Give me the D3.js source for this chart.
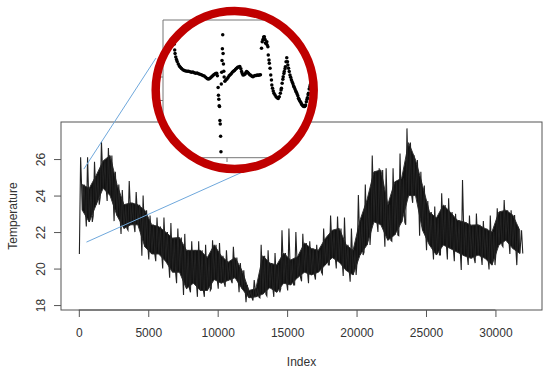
<!DOCTYPE html>
<html>
<head>
<meta charset="utf-8">
<script src="https://cdn.jsdelivr.net/npm/d3@7"></script>
<style>
  body { margin: 0; background: #fff; }
  svg { display: block; font-family: "Liberation Sans", Arial, sans-serif; }
</style>
</head>
<body>
<svg id="chart" width="550" height="372"></svg>
<script>
// the long series in windows of 500 samples
// (centre index of each window, dense band low/high, and the spike extremes)
const binIndex = d3.range(250, 32000, 500);
const bandLo = [23.2, 22.55, 23.5, 24.4, 24.0, 22.9, 22.2, 22.4, 22.4, 21.2,
  20.8, 20.8, 20.4, 19.8, 19.8, 18.9, 19.2, 18.8, 18.8, 19.4,
  19.2, 19.35, 19.5, 18.9, 18.4, 18.45, 18.6, 18.95, 18.7, 19.2,
  19.1, 19.5, 19.8, 19.65, 19.8, 20.2, 20.6, 20.35, 19.9, 19.65,
  20.74, 21.29, 22.56, 22.4, 21.55, 21.84, 22.55, 24.0, 24.0, 22.1,
  21.29, 20.74, 21.29, 21.1, 20.9, 20.7, 20.56, 20.74, 20.56, 20.19,
  21.29, 21.55, 21.1, 20.83];
const bandHi = [24.6, 24.4, 25.1, 25.9, 26.2, 24.6, 23.5, 23.6, 23.5, 23.2,
  22.4, 22.3, 22.0, 21.67, 21.7, 21.0, 21.0, 21.0, 20.6, 21.3,
  20.7, 20.35, 20.6, 19.9, 18.8, 18.9, 20.7, 20.3, 20.2, 20.85,
  20.47, 20.65, 21.4, 21.1, 21.0, 21.65, 22.1, 22.2, 21.3, 21.0,
  22.65, 23.75, 25.3, 25.4, 23.5, 24.75, 24.95, 26.9, 25.95, 24.55,
  23.1, 22.77, 23.48, 23.1, 22.65, 22.55, 22.38, 22.4, 22.2, 22.0,
  23.1, 23.2, 22.93, 22.1];
const peak = [26.1, 26.1, 25.85, 26.95, 26.6, 25.3, 24.3, 24.8, 24.2, 24.0,
  22.9, 22.8, 22.8, 22.5, 22.2, 21.9, 21.5, 21.5, 21.3, 21.55,
  21.4, 21.0, 21.2, 20.3, 19.1, 19.37, 21.3, 21.0, 20.85, 22.1,
  22.2, 22.0, 21.9, 21.5, 21.3, 22.2, 22.9, 22.85, 22.8, 22.2,
  24.03, 24.6, 26.2, 25.5, 25.5, 25.5, 26.3, 27.68, 26.22, 25.3,
  23.7, 23.4, 24.12, 23.85, 23.0, 24.85, 22.9, 23.02, 22.6, 22.9,
  23.3, 23.75, 23.2, 22.29];
const trough = [20.8, 22.3, 22.9, 23.9, 23.7, 22.6, 21.9, 22.1, 22.0, 20.7,
  20.5, 20.4, 20.0, 19.5, 19.2, 18.55, 18.7, 18.45, 18.45, 18.9,
  18.9, 19.0, 19.2, 18.7, 18.15, 18.25, 18.4, 18.5, 18.45, 18.9,
  18.8, 19.1, 19.3, 19.2, 19.4, 19.7, 20.2, 20.0, 19.6, 19.28,
  20.4, 20.9, 22.2, 22.0, 21.2, 21.5, 21.8, 22.4, 23.6, 21.8,
  21.0, 20.5, 20.74, 20.5, 20.4, 19.92, 20.2, 20.3, 20.2, 19.95,
  20.9, 21.2, 20.8, 20.19];

const xTicks = [0, 5000, 10000, 15000, 20000, 25000, 30000];
const yTicks = [18, 20, 22, 24, 26];

// magnified first ~390 samples shown in the circle: [index, temperature]
const insetSamples = [
  [1, 26.65], [2, 26.40], [3, 26.15], [4, 26.00], [6, 25.85], [8, 25.74], [10, 25.66],
  [13, 25.55], [16, 25.47], [19, 25.42], [22, 25.36], [26, 25.31], [30, 25.28], [34, 25.26],
  [38, 25.25], [42, 25.24], [46, 25.22], [50, 25.20], [54, 25.21], [58, 25.18], [62, 25.16],
  [66, 25.17], [70, 25.14], [74, 25.12], [78, 25.10], [82, 25.06], [86, 25.04], [90, 24.99],
  [94, 24.94], [97, 24.91], [100, 24.93], [103, 24.96], [106, 25.00], [109, 25.04], [112, 25.08],
  [115, 25.12], [118, 25.15], [121, 25.16], [123, 25.05],
  [125, 24.55], [126, 24.22], [127, 24.05], [128, 23.78], [129, 23.75], [130, 23.15],
  [131, 23.00], [132, 22.48], [133, 21.82],
  [134, 24.70], [135, 25.20], [136, 25.70], [137, 26.20], [138, 26.80], [139, 26.00],
  [140, 25.55], [141, 25.25], [142, 25.00], [144, 24.82], [147, 24.88], [150, 24.92],
  [153, 24.98], [156, 25.05], [159, 25.10], [162, 25.14], [165, 25.20], [168, 25.24],
  [171, 25.28], [174, 25.33], [177, 25.37], [180, 25.41], [183, 25.43], [186, 25.45],
  [189, 25.35], [191, 25.23], [193, 25.15], [195, 25.09], [198, 25.10], [201, 25.13],
  [203, 25.18], [205, 25.23], [208, 25.20], [211, 25.15], [214, 25.10], [217, 25.07],
  [220, 25.03], [223, 25.01], [226, 25.04], [229, 25.06], [232, 25.06], [235, 25.08],
  [238, 25.07], [241, 25.09], [244, 25.10],
  [247, 26.22], [249, 26.50], [251, 26.60], [253, 26.70], [255, 26.71], [257, 26.60],
  [258, 26.45], [260, 26.43], [262, 26.50], [263, 26.36], [265, 26.29],
  [266, 25.94], [268, 25.72], [269, 25.58], [271, 25.37], [273, 25.09], [275, 24.87],
  [276, 24.66], [278, 24.52], [280, 24.40], [282, 24.31], [285, 24.23], [288, 24.16],
  [291, 24.12], [294, 24.09], [297, 24.16], [300, 24.31], [302, 24.45], [303, 24.52],
  [305, 24.73], [307, 24.90], [308, 25.01], [310, 25.15], [311, 25.23], [313, 25.35],
  [314, 25.44], [316, 25.65], [318, 25.82], [320, 25.65], [321, 25.51], [323, 25.37],
  [325, 25.23], [327, 25.09], [329, 24.99], [331, 24.88], [333, 24.80], [335, 24.72],
  [337, 24.63], [339, 24.56], [341, 24.49], [343, 24.42], [345, 24.35], [347, 24.28],
  [349, 24.20], [351, 24.10], [352, 24.06], [354, 24.00], [356, 23.95], [358, 23.90],
  [360, 23.84], [362, 23.80], [364, 23.77], [366, 23.74], [368, 23.75], [370, 23.78],
  [371, 23.81], [373, 23.95], [375, 24.05], [376, 24.12], [378, 24.25], [379, 24.31],
  [381, 24.49], [383, 24.58], [384, 24.66], [386, 24.75], [387, 24.80], [389, 24.90]
];
const insetYTicks = [25, 24, 23];
const insetXTicks = [150];

const svg = d3.select("#chart");

// plot region (R style: 4% padding round the data)
const x = d3.scaleLinear().domain([-1283, 33354]).range([61, 542]);
const y = d3.scaleLinear().domain([17.73, 28.03]).range([310, 122]);

const bins = d3.range(binIndex.length);
const halfBin = 250;

// dense band
const band = d3.area()
  .x(i => x(binIndex[i]))
  .y0(i => y(bandLo[i]))
  .y1(i => y(bandHi[i]));

svg.append("path")
  .datum(bins)
  .attr("d", band)
  .attr("fill", "#111")
  .attr("stroke", "#333")
  .attr("stroke-width", 1);

// each window drawn as a sawtooth: sharp rise to the spike, fall back through the band
const saw = bins.flatMap(i => {
  const lo = binIndex[i] - halfBin;
  return [
    [lo + 40, trough[i]],
    [lo + 130, peak[i]],
    [lo + 260, bandLo[i]],
    [lo + 380, bandHi[i]],
    [lo + 470, bandLo[i]]
  ];
});
svg.append("path")
  .datum(saw)
  .attr("d", d3.line().x(d => x(d[0])).y(d => y(d[1])))
  .attr("fill", "none")
  .attr("stroke", "#222")
  .attr("stroke-width", 1.1)
  .attr("stroke-linejoin", "miter");

// box
svg.append("rect")
  .attr("x", 61).attr("y", 122)
  .attr("width", 481).attr("height", 188)
  .attr("fill", "none")
  .attr("stroke", "#555");

// axes
const xAxis = svg.append("g")
  .attr("transform", "translate(0,310)")
  .call(d3.axisBottom(x).tickValues(xTicks).tickSize(7).tickSizeOuter(0).tickPadding(11).tickFormat(d3.format("d")));
const yAxis = svg.append("g")
  .attr("transform", "translate(61,0)")
  .call(d3.axisLeft(y).tickValues(yTicks).tickSize(7).tickSizeOuter(0));

[xAxis, yAxis].forEach(g => {
  g.select(".domain").remove();
  g.selectAll(".tick line").attr("stroke", "#555");
  g.selectAll(".tick text")
    .attr("fill", "#333")
    .style("font-size", "12px")
    .style("font-family", "'Liberation Sans', Arial, sans-serif");
});
yAxis.selectAll(".tick text")
  .attr("transform", "rotate(-90)")
  .attr("x", 0)
  .attr("y", -16.5)
  .attr("dy", 0)
  .style("text-anchor", "middle");
// R draws the axis line from the first to the last tick
xAxis.append("line")
  .attr("x1", x(xTicks[0])).attr("x2", x(xTicks[xTicks.length - 1]))
  .attr("stroke", "#555");

svg.append("text")
  .attr("x", 301.5).attr("y", 366)
  .attr("text-anchor", "middle")
  .attr("fill", "#333")
  .style("font-size", "12px")
  .text("Index");
svg.append("text")
  .attr("transform", "translate(17,216) rotate(-90)")
  .attr("text-anchor", "middle")
  .attr("fill", "#333")
  .style("font-size", "12px")
  .text("Temperature");

// magnifier
const cx = 234.7, cy = 90, rr = 79;

svg.append("line")
  .attr("x1", x(360)).attr("y1", y(25.45))
  .attr("x2", 156).attr("y2", 58)
  .attr("stroke", "#6fa8dc").attr("stroke-width", 1);
svg.append("line")
  .attr("x1", x(550)).attr("y1", y(21.45))
  .attr("x2", 262).attr("y2", 163.3)
  .attr("stroke", "#6fa8dc").attr("stroke-width", 1);

svg.append("circle")
  .attr("cx", cx).attr("cy", cy).attr("r", rr)
  .attr("fill", "#fff");

svg.append("clipPath").attr("id", "lens")
  .append("circle").attr("cx", cx).attr("cy", cy).attr("r", rr);

const ix = d3.scaleLinear().domain([1, 150]).range([174, 227]);
const iy = d3.scaleLinear().domain([25, 23]).range([77, 124]);

const inset = svg.append("g");
inset.append("line")
  .attr("x1", 163).attr("x2", 276).attr("y1", 20).attr("y2", 20)
  .attr("stroke", "#777");
inset.append("line")
  .attr("x1", 163).attr("x2", 163).attr("y1", 20).attr("y2", iy(23))
  .attr("stroke", "#777");
inset.selectAll(".ytick")
  .data(insetYTicks)
  .join("line")
  .attr("x1", 159).attr("x2", 163)
  .attr("y1", d => iy(d)).attr("y2", d => iy(d))
  .attr("stroke", "#777");
inset.append("line")
  .attr("clip-path", "url(#lens)")
  .attr("x1", 150).attr("x2", 320).attr("y1", 157.7).attr("y2", 157.7)
  .attr("stroke", "#777");
inset.selectAll(".xtick")
  .data(insetXTicks)
  .join("line")
  .attr("x1", d => ix(d)).attr("x2", d => ix(d))
  .attr("y1", 157.7).attr("y2", 162)
  .attr("stroke", "#777");

inset.append("g")
  .selectAll("circle")
  .data(insetSamples)
  .join("circle")
  .attr("cx", d => ix(d[0]))
  .attr("cy", d => iy(d[1]))
  .attr("r", 1.75)
  .attr("fill", "#000");

// red ring on top
svg.append("circle")
  .attr("cx", cx).attr("cy", cy).attr("r", rr)
  .attr("fill", "none")
  .attr("stroke", "#c00000")
  .attr("stroke-width", 8.5);
</script>
</body>
</html>
